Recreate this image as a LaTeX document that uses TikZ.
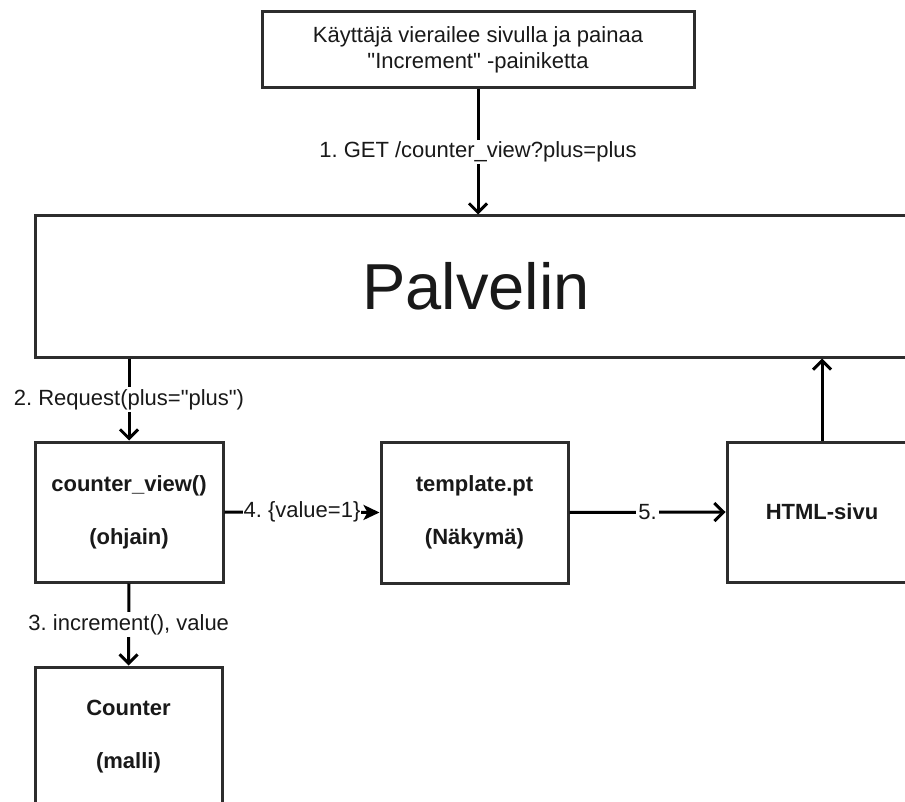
\documentclass[tikz,border=0pt]{standalone}
\usepackage{fontspec}
\setmainfont{Liberation Sans}
\usetikzlibrary{arrows.meta}
\definecolor{edge}{RGB}{45,45,45}
\definecolor{ink}{RGB}{25,25,25}
\newcommand{\sq}{\textquotedbl}
\tikzset{
  box/.style={draw=edge, line width=3pt, fill=white, inner sep=0pt, align=center,
              font=\fontsize{22}{26}\selectfont, text=ink},
  boldbox/.style={box, font=\fontsize{22}{26}\selectfont\bfseries},
  conn/.style={draw=black, line width=3pt, -{Straight Barb[length=9pt,width=18pt,line width=3pt]}},
  fconn/.style={draw=black, line width=3pt, -{Stealth[length=16pt,width=15pt,inset=4pt]}},
  lbl/.style={fill=white, inner sep=2pt, text=ink, font=\fontsize{22}{26}\selectfont}
}
\begin{document}
\frenchspacing
\begin{tikzpicture}[x=1pt, y=-1pt]
\useasboundingbox (0,0) rectangle (905,802);
\clip (0,0) rectangle (905,802);
\fill[white] (0,0) rectangle (905,802);

\node[box, minimum width=432pt, minimum height=76pt] (user) at (478,50)
  {Käyttäjä vierailee sivulla ja painaa\\\sq Increment\sq{} -painiketta};
\node[box, minimum width=882pt, minimum height=141pt,
      font=\fontsize{65}{70}\selectfont] (server) at (476,286.5) {Palvelin};
\node[boldbox, minimum width=188pt, minimum height=140pt] (cv) at (129,512)
  {counter\_view()\\[27pt](ohjain)};
\node[boldbox, minimum width=187pt, minimum height=140pt] (counter) at (128.5,737)
  {Counter\\[27pt](malli)};
\node[boldbox, minimum width=187pt, minimum height=141pt] (tpl) at (474.5,512.5)
  {template.pt\\[27pt](Näkymä)};
\node[boldbox, minimum width=190pt, minimum height=140pt] (html) at (822,512)
  {HTML-sivu};

\draw[conn] (user.south) -- (user.south |- server.north)
  node[lbl, midway] (l1) {\frenchspacing 1. GET /counter\_view?plus=plus};
\draw[conn] (cv.north |- server.south) -- (cv.north)
  node[lbl, midway] (l2) {\frenchspacing 2. Request(plus=\sq plus\sq)};
\draw[conn] (cv.south) -- (counter.north)
  node[lbl, midway] (l3) {\frenchspacing 3. increment(), value};
\draw[fconn] (cv.east) -- (tpl.west)
  node[lbl, midway, inner sep=1pt] (l4) {\frenchspacing 4. \{value=1\}};
\draw[conn] (tpl.east) -- (html.west)
  node[lbl, midway] (l5) {5.};
\draw[conn] (html.north) -- (html.north |- server.south);
\end{tikzpicture}
\end{document}
